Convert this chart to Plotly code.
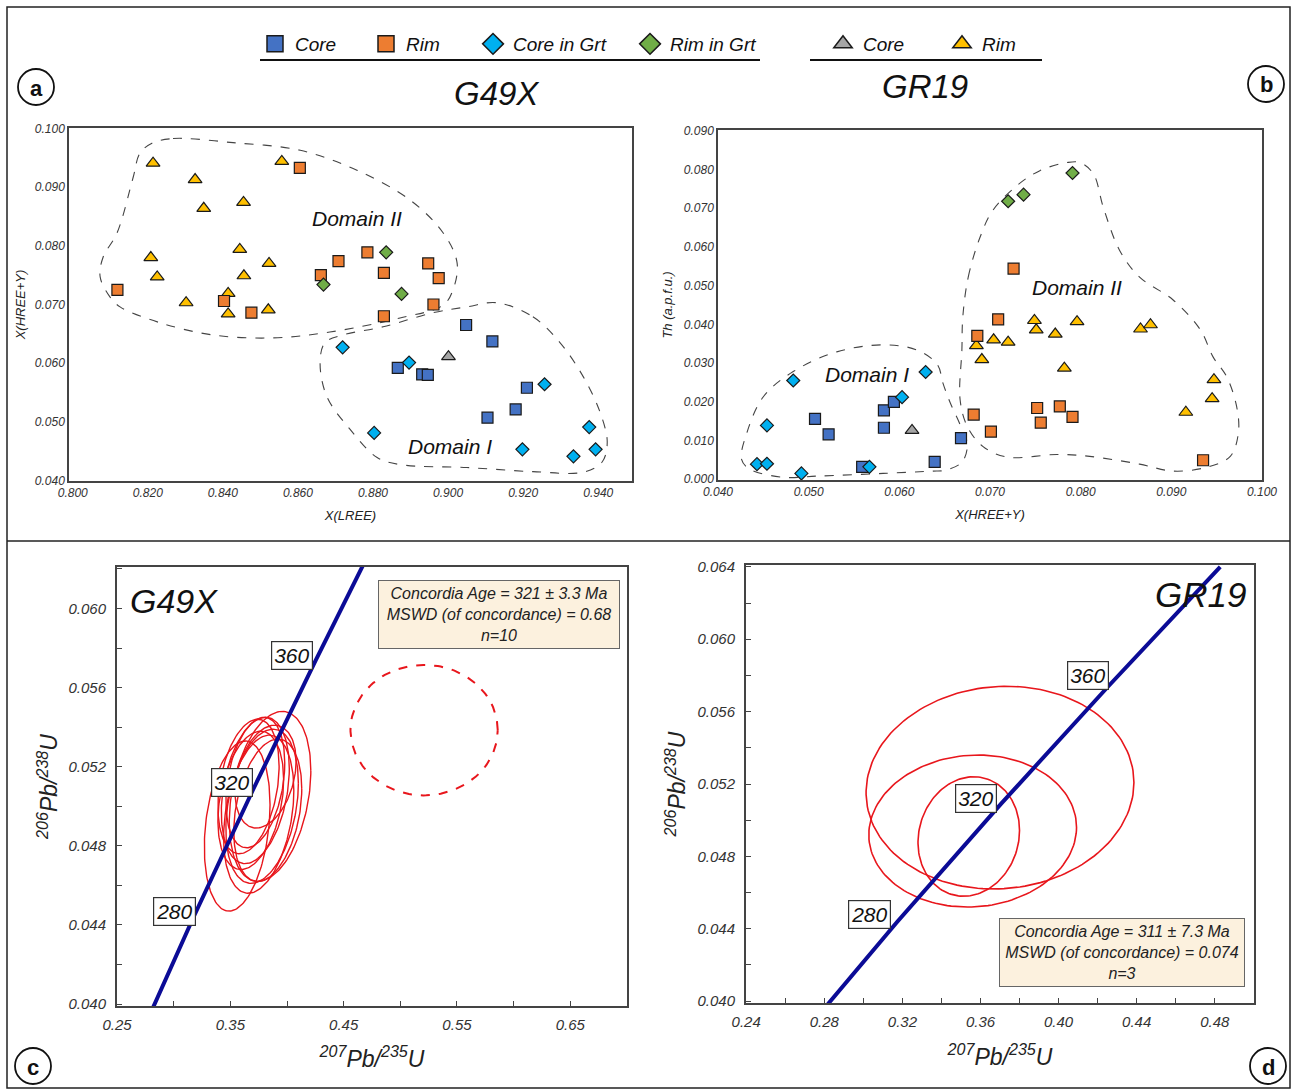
import numpy as np
import plotly.graph_objects as go

W, H = 1296, 1091
FONT = "Liberation Sans, Arial, sans-serif"

# ---------------- Panel a : X(LREE) vs X(HREE+Y) ----------------
a_core_x = [0.9048, 0.9118, 0.8866, 0.8931, 0.8946, 0.9210, 0.9180, 0.9105]
a_core_y = [0.0665, 0.0637, 0.0592, 0.0581, 0.0580, 0.0558, 0.0521, 0.0507]
a_rim_x = [0.8605, 0.8119, 0.8403, 0.8476, 0.8661, 0.8708, 0.8785, 0.8829, 0.8947, 0.8975, 0.8961, 0.8829]
a_rim_y = [0.0933, 0.0725, 0.0706, 0.0686, 0.0750, 0.0774, 0.0789, 0.0754, 0.0770, 0.0745, 0.0700, 0.0680]
a_cgrt_x = [0.8719, 0.8896, 0.9257, 0.8803, 0.9198, 0.9376, 0.9334, 0.9393]
a_cgrt_y = [0.0627, 0.0601, 0.0564, 0.0481, 0.0453, 0.0491, 0.0441, 0.0453]
a_rgrt_x = [0.8835, 0.8668, 0.8876]
a_rgrt_y = [0.0789, 0.0734, 0.0718]
a_gcore_x = [0.9001]
a_gcore_y = [0.0611]
a_grim_x = [0.8214, 0.8326, 0.8349, 0.8455, 0.8557, 0.8208, 0.8225, 0.8445, 0.8523, 0.8456, 0.8302, 0.8414, 0.8414, 0.8521]
a_grim_y = [0.0941, 0.0913, 0.0864, 0.0874, 0.0944, 0.0780, 0.0747, 0.0794, 0.0770, 0.0749, 0.0703, 0.0719, 0.0684, 0.0691]

a_dom2_x = [0.8211, 0.8267, 0.8427, 0.8606, 0.8757, 0.8899, 0.8987, 0.9024, 0.9013, 0.8987, 0.8872,
            0.8685, 0.8534, 0.8374, 0.8232, 0.8126, 0.8099, 0.8073, 0.8081, 0.8118, 0.8161, 0.8179]
a_dom2_y = [0.0975, 0.0983, 0.0976, 0.0963, 0.0929, 0.0878, 0.0822, 0.0771, 0.0725, 0.0699, 0.0677,
            0.0653, 0.0643, 0.0648, 0.0669, 0.0696, 0.0713, 0.0747, 0.0781, 0.0822, 0.0917, 0.0958]
a_dom1_x = [0.9130, 0.9226, 0.9298, 0.9360, 0.9405, 0.9424, 0.9410, 0.9360, 0.9226, 0.9050, 0.8872,
            0.8811, 0.8739, 0.8677, 0.8659, 0.8672, 0.8720, 0.8827, 0.8960, 0.9050]
a_dom1_y = [0.0703, 0.0679, 0.0635, 0.0577, 0.0516, 0.0465, 0.0431, 0.0414, 0.0415, 0.0422, 0.0427,
            0.0439, 0.0487, 0.0543, 0.0601, 0.0635, 0.0648, 0.0662, 0.0686, 0.0696]

a_xticks = [0.800, 0.820, 0.840, 0.860, 0.880, 0.900, 0.920, 0.940]
a_xtext = ["0.800", "0.820", "0.840", "0.860", "0.880", "0.900", "0.920", "0.940"]
a_yticks = [0.040, 0.050, 0.060, 0.070, 0.080, 0.090, 0.100]
a_ytext = ["0.040", "0.050", "0.060", "0.070", "0.080", "0.090", "0.100"]

# ---------------- Panel b : X(HREE+Y) vs Th ----------------
b_core_x = [0.0507, 0.0522, 0.0559, 0.0583, 0.0583, 0.0594, 0.0639, 0.0668]
b_core_y = [0.0156, 0.0116, 0.0032, 0.0133, 0.0178, 0.0200, 0.0045, 0.0106]
b_rim_x = [0.0726, 0.0709, 0.0686, 0.0682, 0.0701, 0.0752, 0.0756, 0.0777, 0.0791, 0.0935]
b_rim_y = [0.0544, 0.0413, 0.0370, 0.0167, 0.0123, 0.0184, 0.0146, 0.0188, 0.0161, 0.0049]
b_cgrt_x = [0.0483, 0.0454, 0.0443, 0.0454, 0.0492, 0.0629, 0.0603, 0.0567]
b_cgrt_y = [0.0255, 0.0139, 0.0039, 0.0040, 0.0015, 0.0277, 0.0212, 0.0032]
b_rgrt_x = [0.0720, 0.0737, 0.0791]
b_rgrt_y = [0.0718, 0.0735, 0.0791]
b_gcore_x = [0.0614]
b_gcore_y = [0.0126]
b_grim_x = [0.0685, 0.0691, 0.0704, 0.0720, 0.0749, 0.0751, 0.0772, 0.0796, 0.0782, 0.0866, 0.0877, 0.0947, 0.0945, 0.0916]
b_grim_y = [0.0345, 0.0309, 0.0360, 0.0354, 0.0410, 0.0386, 0.0375, 0.0407, 0.0287, 0.0388, 0.0399, 0.0257, 0.0208, 0.0173]

b_dom1_x = [0.0426, 0.0432, 0.0450, 0.0483, 0.0531, 0.0582, 0.0619, 0.0642, 0.0648, 0.0656, 0.0667,
            0.0675, 0.0669, 0.0650, 0.0637, 0.0582, 0.0509, 0.0472, 0.0435]
b_dom1_y = [0.0051, 0.0121, 0.0213, 0.0278, 0.0329, 0.0347, 0.0334, 0.0296, 0.0249, 0.0198, 0.0141,
            0.0090, 0.0044, 0.0023, 0.0021, 0.0015, 0.0008, 0.0005, 0.0026]
b_dom2_x = [0.0670, 0.0676, 0.0689, 0.0703, 0.0730, 0.0755, 0.0785, 0.0799, 0.0814, 0.0825, 0.0843,
            0.0865, 0.0902, 0.0932, 0.0946, 0.0961, 0.0972, 0.0974, 0.0965, 0.0939, 0.0902, 0.0865,
            0.0810, 0.0774, 0.0719, 0.0692, 0.0675, 0.0667, 0.0669]
b_dom2_y = [0.0419, 0.0522, 0.0625, 0.0694, 0.0759, 0.0797, 0.0818, 0.0818, 0.0789, 0.0702, 0.0591,
            0.0522, 0.0463, 0.0386, 0.0316, 0.0265, 0.0188, 0.0121, 0.0059, 0.0031, 0.0021, 0.0039,
            0.0059, 0.0064, 0.0057, 0.0085, 0.0136, 0.0206, 0.0334]

b_xticks = [0.040, 0.050, 0.060, 0.070, 0.080, 0.090, 0.100]
b_xtext = ["0.040", "0.050", "0.060", "0.070", "0.080", "0.090", "0.100"]
b_yticks = [0.000, 0.010, 0.020, 0.030, 0.040, 0.050, 0.060, 0.070, 0.080, 0.090]
b_ytext = ["0.000", "0.010", "0.020", "0.030", "0.040", "0.050", "0.060", "0.070", "0.080", "0.090"]

# ---------------- Concordia ----------------
conc_age = [250, 280, 320, 360, 400]
conc_x = [0.2792, 0.3175, 0.3705, 0.4255, 0.4828]
conc_y = [0.0395, 0.0444, 0.0509, 0.0574, 0.0640]
label_ages = ["280", "320", "360"]

# ---------------- Panel c : G49X ellipses ----------------
c_cx = [0.356, 0.385, 0.372, 0.378, 0.368, 0.381, 0.375, 0.366, 0.383, 0.372]
c_cy = [0.0490, 0.0505, 0.0508, 0.0500, 0.0503, 0.0515, 0.0496, 0.0510, 0.0498, 0.0512]
c_a = [0.029, 0.036, 0.030, 0.032, 0.029, 0.027, 0.031, 0.027, 0.030, 0.026]
c_b = [0.0043, 0.0043, 0.0037, 0.0039, 0.0035, 0.0026, 0.0040, 0.0034, 0.0036, 0.0033]
c_rho = [0.25, 0.3, 0.3, 0.3, 0.3, 0.3, 0.3, 0.3, 0.3, 0.3]
c_excl = [0.521, 0.05385, 0.065, 0.0033]  # cx, cy, a, b (dashed, excluded)
c_lab_x = [0.301, 0.351, 0.404]
c_lab_y = [0.0447, 0.0512, 0.0576]
c_xticks = [0.25, 0.35, 0.45, 0.55, 0.65]
c_xtext = ["0.25", "0.35", "0.45", "0.55", "0.65"]
c_xminor = [0.30, 0.40, 0.50, 0.60, 0.70]
c_yticks = [0.040, 0.044, 0.048, 0.052, 0.056, 0.060]
c_ytext = ["0.040", "0.044", "0.048", "0.052", "0.056", "0.060"]
c_yminor = [0.042, 0.046, 0.050, 0.054, 0.058, 0.062]
c_stats = "Concordia Age = 321 ± 3.3 Ma<br>MSWD (of concordance) = 0.68<br>n=10"

# ---------------- Panel d : GR19 ellipses ----------------
d_cx = [0.370, 0.356, 0.354]
d_cy = [0.0518, 0.0494, 0.0491]
d_a = [0.0686, 0.0532, 0.026]
d_b = [0.0056, 0.0042, 0.0033]
d_rho = [0.05, 0.05, 0.1]
d_lab_x = [0.303, 0.3575, 0.415]
d_lab_y = [0.0448, 0.0512, 0.0580]
d_xticks = [0.24, 0.28, 0.32, 0.36, 0.40, 0.44, 0.48]
d_xtext = ["0.24", "0.28", "0.32", "0.36", "0.40", "0.44", "0.48"]
d_xminor = [0.26, 0.30, 0.34, 0.38, 0.42, 0.46, 0.50]
d_yticks = [0.040, 0.044, 0.048, 0.052, 0.056, 0.060, 0.064]
d_ytext = ["0.040", "0.044", "0.048", "0.052", "0.056", "0.060", "0.064"]
d_yminor = [0.042, 0.046, 0.050, 0.054, 0.058, 0.062]
d_stats = "Concordia Age = 311 ± 7.3 Ma<br>MSWD (of concordance) = 0.074<br>n=3"

# ---------------- styles ----------------
COL = {"core": "#4472C4", "rim": "#ED7D31", "cgrt": "#00B0F0", "rgrt": "#70AD47",
       "gcore": "#A5A5A5", "grim": "#FFC000"}
SYM = {"core": "square", "rim": "square", "cgrt": "diamond", "rgrt": "diamond",
       "gcore": "triangle-up", "grim": "triangle-up"}
SIZE = {"core": 11, "rim": 11, "cgrt": 10, "rgrt": 10, "gcore": 12, "grim": 12}
NAMES = {"core": "Core", "rim": "Rim", "cgrt": "Core in Grt", "rgrt": "Rim in Grt",
         "gcore": "Core", "grim": "Rim"}
RED = "#E8161C"
NAVY = "#0B0B96"


def px_x(p):
    return p / W


def px_y(p):
    return 1 - p / H


fig = go.Figure()

# domain outlines
for xs, ys, xa, ya in [(a_dom2_x, a_dom2_y, "x", "y"), (a_dom1_x, a_dom1_y, "x", "y"),
                       (b_dom1_x, b_dom1_y, "x2", "y2"), (b_dom2_x, b_dom2_y, "x2", "y2")]:
    fig.add_trace(go.Scatter(x=list(xs) + [xs[0]], y=list(ys) + [ys[0]], mode="lines",
                             line=dict(color="#444", width=1.1, dash="dash", shape="spline", smoothing=1.0),
                             xaxis=xa, yaxis=ya, showlegend=False, hoverinfo="skip"))

panel_a = {"core": (a_core_x, a_core_y), "rim": (a_rim_x, a_rim_y), "cgrt": (a_cgrt_x, a_cgrt_y),
           "rgrt": (a_rgrt_x, a_rgrt_y), "gcore": (a_gcore_x, a_gcore_y), "grim": (a_grim_x, a_grim_y)}
panel_b = {"core": (b_core_x, b_core_y), "rim": (b_rim_x, b_rim_y), "cgrt": (b_cgrt_x, b_cgrt_y),
           "rgrt": (b_rgrt_x, b_rgrt_y), "gcore": (b_gcore_x, b_gcore_y), "grim": (b_grim_x, b_grim_y)}

for data, xa, ya in [(panel_a, "x", "y"), (panel_b, "x2", "y2")]:
    for k in ["grim", "gcore", "rim", "core", "cgrt", "rgrt"]:
        xs, ys = data[k]
        fig.add_trace(go.Scatter(x=xs, y=ys, mode="markers", xaxis=xa, yaxis=ya, showlegend=False,
                                 marker=dict(symbol=SYM[k], size=SIZE[k], color=COL[k],
                                             line=dict(color="#1a1a1a", width=1.2)),
                                 name=NAMES[k]))

# legend entries: one small legend per item so that each can sit where the reference has it
leg_items = [("core", 255), ("rim", 366), ("cgrt", 473), ("rgrt", 630), ("gcore", 823), ("grim", 942)]
leg_layout = {}
for i, (k, lx) in enumerate(leg_items):
    lname = "legend" if i == 0 else "legend%d" % (i + 1)
    fig.add_trace(go.Scatter(x=[None], y=[None], mode="markers", name=NAMES[k], legend=lname,
                             marker=dict(symbol=SYM[k], size=18, color=COL[k],
                                         line=dict(color="#1a1a1a", width=1.5)),
                             xaxis="x", yaxis="y", showlegend=True))
    leg_layout[lname] = dict(orientation="h", x=px_x(lx), xanchor="left", y=px_y(44), yanchor="middle",
                             font=dict(family=FONT, size=19, style="italic", color="#111"),
                             bgcolor="rgba(0,0,0,0)", itemsizing="trace")


def ellipse(cx, cy, a, b, rho, n=160):
    t = np.linspace(0, 2 * np.pi, n)
    return cx + a * np.cos(t), cy + b * (rho * np.cos(t) + np.sqrt(1 - rho ** 2) * np.sin(t))


# panel c
for cx, cy, a, b, r in zip(c_cx, c_cy, c_a, c_b, c_rho):
    ex, ey = ellipse(cx, cy, a, b, r)
    fig.add_trace(go.Scatter(x=ex, y=ey, mode="lines", line=dict(color=RED, width=1.4),
                             xaxis="x3", yaxis="y3", showlegend=False, hoverinfo="skip"))
ex, ey = ellipse(c_excl[0], c_excl[1], c_excl[2], c_excl[3], 0.0)
fig.add_trace(go.Scatter(x=ex, y=ey, mode="lines", line=dict(color=RED, width=2, dash="dash"),
                         xaxis="x3", yaxis="y3", showlegend=False, hoverinfo="skip"))
fig.add_trace(go.Scatter(x=conc_x, y=conc_y, mode="lines", line=dict(color=NAVY, width=4),
                         xaxis="x3", yaxis="y3", showlegend=False, hoverinfo="skip"))

# panel d
for cx, cy, a, b, r in zip(d_cx, d_cy, d_a, d_b, d_rho):
    ex, ey = ellipse(cx, cy, a, b, r)
    fig.add_trace(go.Scatter(x=ex, y=ey, mode="lines", line=dict(color=RED, width=1.6),
                             xaxis="x4", yaxis="y4", showlegend=False, hoverinfo="skip"))
fig.add_trace(go.Scatter(x=conc_x, y=conc_y, mode="lines", line=dict(color=NAVY, width=4),
                         xaxis="x4", yaxis="y4", showlegend=False, hoverinfo="skip"))

tick_ab = dict(family=FONT, size=12, style="italic", color="#333")
tick_cd = dict(family=FONT, size=15, style="italic", color="#333")


def axis(rng, dom, tv, tt, tf, title=None, tsize=13, standoff=8, ticks="", line_w=1.5, minor=None,
         lstand=0):
    d = dict(range=rng, domain=dom, showgrid=False, zeroline=False, showline=True, linecolor="#444",
             linewidth=line_w, mirror=True, tickmode="array", tickvals=tv, ticktext=tt, tickfont=tf,
             ticks=ticks, ticklen=5, tickcolor="#444", automargin=False, fixedrange=True,
             ticklabelstandoff=lstand)
    if minor is not None:
        d["minor"] = dict(tickmode="array", tickvals=minor, ticks="inside", ticklen=5, tickcolor="#444",
                          showgrid=False)
    if title:
        d["title"] = dict(text=title, font=dict(family=FONT, size=tsize, style="italic", color="#222"),
                          standoff=standoff)
    return d


fig.update_layout(
    width=W, height=H, margin=dict(l=0, r=0, t=0, b=0),
    paper_bgcolor="white", plot_bgcolor="white",
    xaxis=axis([0.799, 0.949], [px_x(69), px_x(632)], a_xticks, a_xtext, tick_ab, "X(LREE)", 13, 12),
    yaxis=axis([0.0399, 0.1001], [px_y(481), px_y(128)], a_yticks, a_ytext, tick_ab, "X(HREE+Y)", 13, 6),
    xaxis2=axis([0.040, 0.100], [px_x(718), px_x(1262)], b_xticks, b_xtext, tick_ab, "X(HREE+Y)", 13, 12),
    yaxis2=axis([-0.0002, 0.0902], [px_y(480), px_y(130)], b_yticks, b_ytext, tick_ab, "Th (a.p.f.u.)", 13, 8),
    xaxis3=axis([0.2499, 0.7001], [px_x(117), px_x(627)], c_xticks, c_xtext, tick_cd,
                "<sup>207</sup>Pb/<sup>235</sup>U", 23, 19, "inside", 2, c_xminor, 4),
    yaxis3=axis([0.0399, 0.0621], [px_y(1006), px_y(567)], c_yticks, c_ytext, tick_cd,
                "<sup>206</sup>Pb/<sup>238</sup>U", 23, 4, "inside", 2, c_yminor, 6),
    xaxis4=axis([0.2399, 0.5001], [px_x(746), px_x(1254)], d_xticks, d_xtext, tick_cd,
                "<sup>207</sup>Pb/<sup>235</sup>U", 23, 20, "inside", 2, d_xminor, 4),
    yaxis4=axis([0.0399, 0.0641], [px_y(1003), px_y(565)], d_yticks, d_ytext, tick_cd,
                "<sup>206</sup>Pb/<sup>238</sup>U", 23, 5, "inside", 2, d_yminor, 6),
    **leg_layout,
)
fig.update_layout(xaxis=dict(anchor="y"), yaxis=dict(anchor="x"), xaxis2=dict(anchor="y2"),
                  yaxis2=dict(anchor="x2"), xaxis3=dict(anchor="y3"), yaxis3=dict(anchor="x3"),
                  xaxis4=dict(anchor="y4"), yaxis4=dict(anchor="x4"))

shapes = []
# outer border and divider
shapes.append(dict(type="rect", xref="paper", yref="paper", x0=px_x(7), x1=px_x(1290), y0=px_y(1088),
                   y1=px_y(7), line=dict(color="#222", width=1.5)))
shapes.append(dict(type="line", xref="paper", yref="paper", x0=px_x(7), x1=px_x(1290), y0=px_y(541),
                   y1=px_y(541), line=dict(color="#222", width=1.5)))
# legend underlines
shapes.append(dict(type="line", xref="paper", yref="paper", x0=px_x(260), x1=px_x(760), y0=px_y(60),
                   y1=px_y(60), line=dict(color="#111", width=2)))
shapes.append(dict(type="line", xref="paper", yref="paper", x0=px_x(810), x1=px_x(1042), y0=px_y(60),
                   y1=px_y(60), line=dict(color="#111", width=2)))
# panel letter circles
letters = [("a", 36, 87), ("b", 1266, 84), ("c", 33, 1066), ("d", 1268, 1066)]
for _, cx, cy in letters:
    shapes.append(dict(type="circle", xref="paper", yref="paper", x0=px_x(cx - 18), x1=px_x(cx + 18),
                       y0=px_y(cy + 18), y1=px_y(cy - 18), line=dict(color="#111", width=1.8),
                       fillcolor="white"))
fig.update_layout(shapes=shapes)

ann = []


def paper_text(text, x, y, font):
    return dict(text=text, x=px_x(x), y=px_y(y), xref="paper", yref="paper", showarrow=False,
                xanchor="center", yanchor="middle", font=font)


for t, cx, cy in letters:
    ann.append(paper_text("<b>%s</b>" % t, cx, cy + 1, dict(family=FONT, size=22, color="#111")))
ann.append(paper_text("G49X", 497, 93, dict(family=FONT, size=33, style="italic", color="#111")))
ann.append(paper_text("GR19", 925, 86, dict(family=FONT, size=33, style="italic", color="#111")))
dom_font = dict(family=FONT, size=21, style="italic", color="#111")
ann.append(dict(text="Domain II", x=0.8757, y=0.0847, xref="x", yref="y", showarrow=False, font=dom_font))
ann.append(dict(text="Domain I", x=0.9005, y=0.0458, xref="x", yref="y", showarrow=False, font=dom_font))
ann.append(dict(text="Domain I", x=0.0564, y=0.0270, xref="x2", yref="y2", showarrow=False, font=dom_font))
ann.append(dict(text="Domain II", x=0.0796, y=0.0496, xref="x2", yref="y2", showarrow=False, font=dom_font))

lab_font = dict(family=FONT, size=21, style="italic", color="#111")
for lx, ly, lt in zip(c_lab_x, c_lab_y, label_ages):
    ann.append(dict(text=lt, x=lx, y=ly, xref="x3", yref="y3", showarrow=False, font=lab_font,
                    bgcolor="white", bordercolor="#333", borderwidth=1.2, borderpad=2))
for lx, ly, lt in zip(d_lab_x, d_lab_y, label_ages):
    ann.append(dict(text=lt, x=lx, y=ly, xref="x4", yref="y4", showarrow=False, font=lab_font,
                    bgcolor="white", bordercolor="#333", borderwidth=1.2, borderpad=2))
ann.append(dict(text="G49X", x=0.300, y=0.0604, xref="x3", yref="y3", showarrow=False,
                font=dict(family=FONT, size=34, style="italic", color="#111")))
ann.append(dict(text="GR19", x=0.4729, y=0.06247, xref="x4", yref="y4", showarrow=False,
                font=dict(family=FONT, size=35, style="italic", color="#111")))
stat_font = dict(family=FONT, size=16, style="italic", color="#222")
ann.append(dict(text=c_stats, x=0.587, y=0.0597, xref="x3", yref="y3", showarrow=False, font=stat_font,
                bgcolor="#FCF1DE", bordercolor="#666", borderwidth=1, borderpad=4, width=232, align="center"))
ann.append(dict(text=d_stats, x=0.4324, y=0.04268, xref="x4", yref="y4", showarrow=False, font=stat_font,
                bgcolor="#FCF1DE", bordercolor="#666", borderwidth=1, borderpad=4, width=236, align="center"))
fig.update_layout(annotations=ann)

fig.write_html("out.html", config={"displayModeBar": False},
               post_script="document.body.style.margin='0px';document.body.style.overflow='hidden';")
